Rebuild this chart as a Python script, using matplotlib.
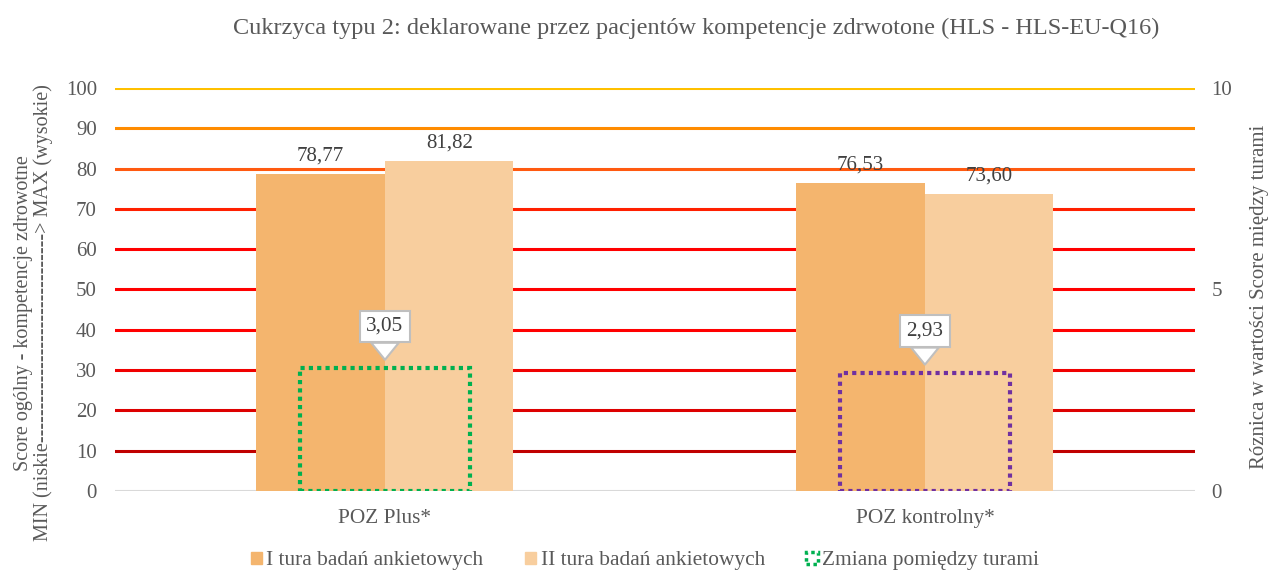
import matplotlib
matplotlib.use("Agg")
import matplotlib.pyplot as plt
from matplotlib.patches import Patch

plt.rcParams['font.family'] = ['Liberation Serif', 'DejaVu Serif']

groups = ['POZ Plus*', 'POZ kontrolny*']
tura1 = [78.77, 76.53]
tura2 = [81.82, 73.60]
zmiana = [3.05, 2.93]
labels1 = ['78,77', '76,53']
labels2 = ['81,82', '73,60']
zmiana_labels = ['3,05', '2,93']

c1 = '#F4B56E'
c2 = '#F8CE9E'
box_colors = ['#00B050', '#7030A0']
grid_colors = ['#D9D9D9', '#C00000', '#DD0000', '#F00000', '#FF0000', '#FF0000',
               '#FF0000', '#FF2000', '#FF5A10', '#FF8C00', '#FFC000']
txt = '#595959'
fs = 15.3

fig = plt.figure(figsize=(12.72, 5.71), dpi=100)
ax = fig.add_axes([0.0904, 0.140, 0.849, 0.706])

for i, v in enumerate(range(0, 101, 10)):
    ax.axhline(v, color=grid_colors[i], lw=2.2 if v else 1.5, zorder=1)

x = list(range(len(groups)))
w = 0.238
b1 = ax.bar([i - w / 2 for i in x], tura1, width=w, color=c1, zorder=2)
b2 = ax.bar([i + w / 2 for i in x], tura2, width=w, color=c2, zorder=2)
for bars, labs in ((b1, labels1), (b2, labels2)):
    for r, lab in zip(bars, labs):
        ax.annotate(lab, (r.get_x() + r.get_width() / 2, r.get_height()),
                    xytext=(0, 6), textcoords='offset points', ha='center', va='bottom',
                    fontsize=15, color='#404040')

ax.set_xlim(-0.5, 1.5)
ax.set_ylim(0, 100)
ax.set_yticks(range(0, 101, 10))
ax.set_xticks(x)
ax.set_xticklabels(groups)
ax.tick_params(axis='both', length=0, labelsize=15, labelcolor=txt)
ax.tick_params(axis='y', pad=13)
ax.tick_params(axis='x', pad=13, labelsize=fs)
for s in ax.spines.values():
    s.set_visible(False)

ax2 = ax.twinx()
ax2.set_ylim(0, 10)
ax2.set_yticks([0, 5, 10])
ax2.tick_params(axis='y', length=0, labelsize=15, labelcolor=txt, pad=12)
for s in ax2.spines.values():
    s.set_visible(False)
ax2.bar(x, zmiana, width=0.315, fill=False, edgecolor=box_colors, linewidth=3,
        linestyle=(0, (1, 1)), zorder=3)
for i, v in enumerate(zmiana):
    ax2.annotate(zmiana_labels[i], (i, v), xytext=(0, 30), textcoords='offset points',
                 ha='center', va='center', fontsize=fs, color='#404040',
                 bbox=dict(boxstyle='square,pad=0.3', fc='white', ec='#BFBFBF', lw=1.5),
                 arrowprops=dict(arrowstyle='simple,head_width=1.3,head_length=0.8,tail_width=0.6',
                                 fc='white', ec='#BFBFBF', lw=1.5, shrinkA=0, shrinkB=6))

fig.text(0.547, 1 - 28 / 571, 'Cukrzyca typu 2: deklarowane przez pacjentów kompetencje zdrwotone (HLS - HLS-EU-Q16)',
         ha='center', va='center', fontsize=17.5, color=txt)
fig.text(0.0265, 1 - 313 / 571,
         'Score ogólny - kompetencje zdrowotne\nMIN (niskie' + '-' * 31 + '> MAX (wysokie)',
         rotation=90, ha='center', va='center', multialignment='center',
         fontsize=14.5, color=txt, linespacing=1.0)
fig.text(0.99, 1 - 297 / 571, 'Róznica w wartości Score między turami',
         rotation=90, ha='center', va='center', fontsize=15, color=txt)

handles = [Patch(facecolor=c1, edgecolor=c1), Patch(facecolor=c2, edgecolor=c2),
           Patch(facecolor='none', edgecolor=box_colors[0], linestyle=(0, (1, 1)), linewidth=2.5)]
fig.legend(handles, ['I tura badań ankietowych', 'II tura badań ankietowych', 'Zmiana pomiędzy turami'],
           loc='center', bbox_to_anchor=(0.507, 1 - 561 / 571), ncol=3, frameon=False,
           fontsize=15.4, labelcolor=txt, handlelength=0.52, handleheight=0.52,
           handletextpad=0.2, columnspacing=1.95)

fig.savefig('out.png', dpi=100)
